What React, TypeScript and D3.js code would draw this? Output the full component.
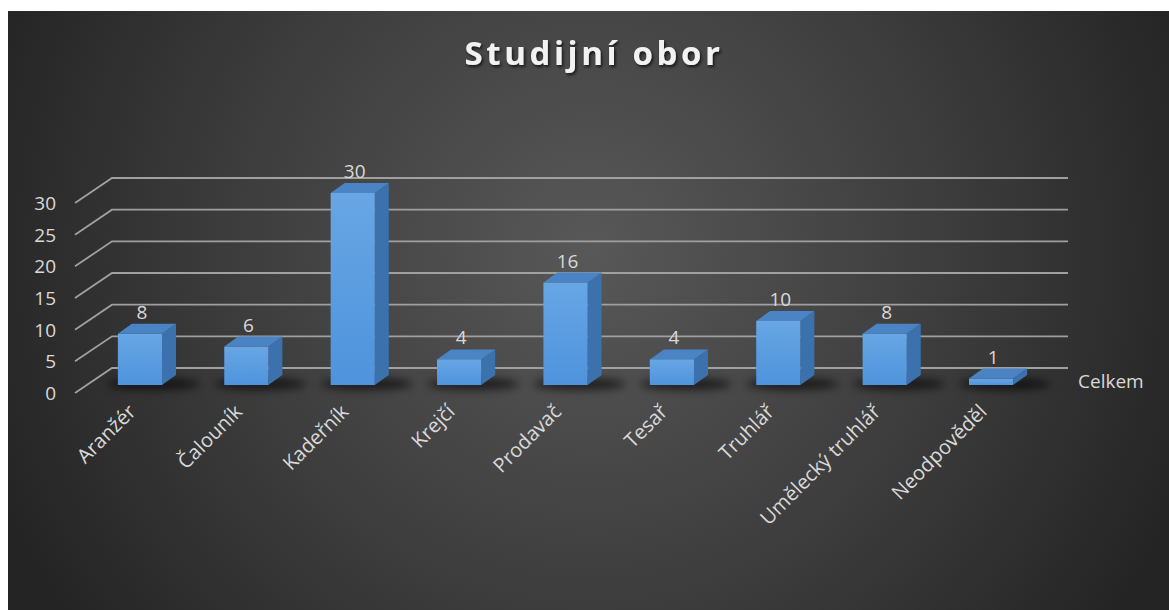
import React from "react";
import * as d3 from "d3";

const categories = ["Aranžér", "Čalouník", "Kadeřník", "Krejčí", "Prodavač", "Tesař", "Truhlář", "Umělecký truhlář", "Neodpověděl"];
const values = [8, 6, 30, 4, 16, 4, 10, 8, 1];
const yTicks = [0, 5, 10, 15, 20, 25, 30];
const seriesName = "Celkem";
const title = "Studijní obor";

const W = 1169;
const H = 610;
const FONT = "'Open Sans', 'Noto Sans', sans-serif";

export default function App() {
  const x = d3.scaleBand<string>().domain(categories).range([87, 1044]).paddingInner(0.585).paddingOuter(0.29);
  const yBack = d3.scaleLinear().domain([0, 30]).range([368, 178]);
  const yFront = d3.scaleLinear().domain([0, 30]).range([385, 193]);
  const wallL = 112, wallR = 1068, dxL = -37, dyL = 25;
  const depthX = 14, depthY = -10;
  const bw = x.bandwidth();

  return (
    <svg width={W} height={H} style={{ position: "absolute", left: 0, top: 0 }}>
      <defs>
        <radialGradient id="bg" cx="590" cy="250" r="640" gradientUnits="userSpaceOnUse">
          <stop offset="0" stopColor="#585858" />
          <stop offset="0.55" stopColor="#3d3d3d" />
          <stop offset="1" stopColor="#242424" />
        </radialGradient>
        <linearGradient id="front" x1="0" y1="0" x2="0" y2="1">
          <stop offset="0" stopColor="#68a6e4" />
          <stop offset="1" stopColor="#4e93dc" />
        </linearGradient>
        <filter id="blur" x="-50%" y="-200%" width="200%" height="500%">
          <feGaussianBlur stdDeviation="4" />
        </filter>
        <filter id="tshadow" x="-10%" y="-30%" width="120%" height="160%">
          <feDropShadow dx="1.5" dy="2" stdDeviation="1.5" floodColor="#000" floodOpacity="0.7" />
        </filter>
      </defs>
      <rect x={0} y={0} width={W} height={H} fill="#ffffff" />
      <rect x={8} y={11} width={W - 8} height={H - 11} fill="url(#bg)" />

      <text x={594} y={65} textAnchor="middle" fill="#f2f2f2" fontFamily={FONT} fontWeight={700}
        fontSize={33} letterSpacing={3.6} filter="url(#tshadow)">{title}</text>

      {yTicks.map((t) => (
        <g key={t}>
          <polyline points={`${wallL + dxL},${yBack(t) + dyL} ${wallL},${yBack(t)} ${wallR},${yBack(t)}`}
            fill="none" stroke="#a0a0a0" strokeWidth={1.8} />
          <text x={56} y={yBack(t) + dyL + 7} textAnchor="end" fill="#d9d9d9" fontFamily={FONT} fontSize={19}>{t}</text>
        </g>
      ))}

      {categories.map((c) => {
        const x0 = x(c)!;
        const y0 = yFront(0);
        return (
          <ellipse key={"s" + c} cx={x0 + bw / 2 + 14} cy={y0 - 1} rx={bw / 2 + 24} ry={6}
            fill="#000" opacity={0.6} filter="url(#blur)" />
        );
      })}

      {categories.map((c, i) => {
        const v = values[i];
        const x0 = x(c)!;
        const x1 = x0 + bw;
        const yb = yFront(0);
        const yt = yFront(v);
        return (
          <g key={c}>
            <polygon points={`${x1},${yt} ${x1 + depthX},${yt + depthY} ${x1 + depthX},${yb + depthY} ${x1},${yb}`} fill="#3b72ad" />
            <polygon points={`${x0},${yt} ${x0 + depthX},${yt + depthY} ${x1 + depthX},${yt + depthY} ${x1},${yt}`} fill="#4a84c4" />
            <rect x={x0} y={yt} width={bw} height={yb - yt} fill="url(#front)" />
            <text x={x0 + bw / 2 + 2} y={yt - 15} textAnchor="middle" fill="#d9d9d9" fontFamily={FONT} fontSize={19}>{v}</text>
            <text transform={`translate(${x0 + bw / 2 - 3},${yb + 28}) rotate(-45)`} textAnchor="end" fill="#d9d9d9"
              fontFamily={FONT} fontSize={20}>{c}</text>
          </g>
        );
      })}

      <text x={1078} y={388} fill="#d9d9d9" fontFamily={FONT} fontSize={19}>{seriesName}</text>
    </svg>
  );
}
